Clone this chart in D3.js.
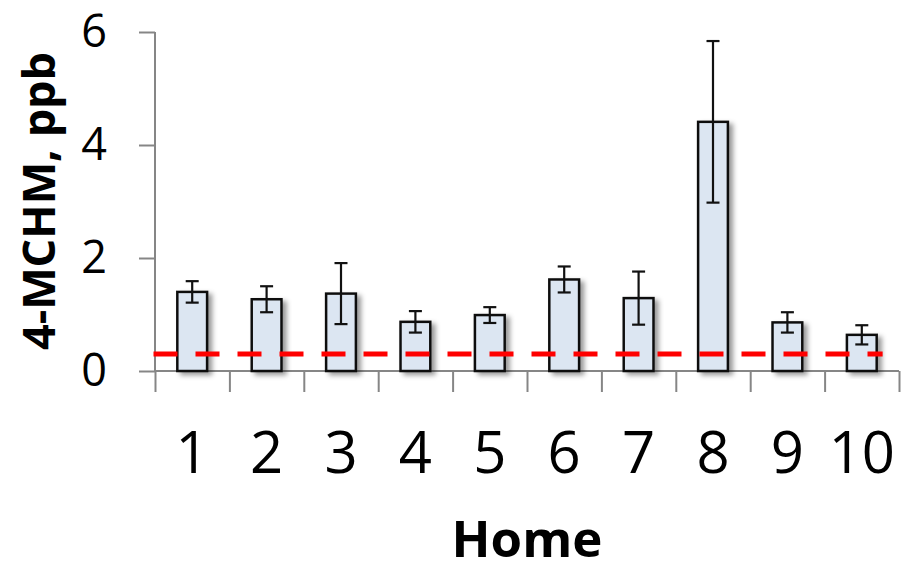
<!DOCTYPE html>
<html>
<head>
<meta charset="utf-8">
<script src="https://cdn.jsdelivr.net/npm/d3@7"></script>
<style>
  body { margin: 0; background: #fff; }
  svg { display: block; }
  svg text { font-family: 'Open Sans', sans-serif; }
</style>
</head>
<body>
<svg width="911" height="562"></svg>
<script>
const homes = ['1', '2', '3', '4', '5', '6', '7', '8', '9', '10'];
const means = [1.40, 1.27, 1.37, 0.87, 0.99, 1.62, 1.29, 4.41, 0.86, 0.64];
const errors = [0.19, 0.23, 0.54, 0.19, 0.14, 0.23, 0.47, 1.43, 0.18, 0.17];
const yTicks = [0, 2, 4, 6];
const threshold = 0.3;

const svg = d3.select('svg');
const width = 911;
const height = 562;
const margin = { top: 32, right: 12, bottom: 191, left: 155 };
const innerWidth = width - margin.left - margin.right;
const innerHeight = height - margin.top - margin.bottom;
const font = "'Open Sans', sans-serif";

const xScale = d3.scaleBand()
    .domain(homes)
    .range([0, innerWidth])
    .paddingInner(0.6)
    .paddingOuter(0.3);

// edges of each category, for the tick marks between bars
const edgeScale = d3.scaleLinear()
    .domain([0, homes.length])
    .range([0, innerWidth]);

const yScale = d3.scaleLinear()
    .domain([0, 6])
    .range([innerHeight, 0]);

const defs = svg.append('defs');
const shadow = defs.append('filter')
    .attr('id', 'shadow')
    .attr('x', '-30%').attr('y', '-10%')
    .attr('width', '170%').attr('height', '130%');
shadow.append('feDropShadow')
    .attr('dx', 4).attr('dy', 3)
    .attr('stdDeviation', 2.5)
    .attr('flood-color', '#000')
    .attr('flood-opacity', 0.4);

const g = svg.append('g')
    .attr('transform', `translate(${margin.left},${margin.top})`);

// y axis
const yAxis = d3.axisLeft(yScale)
    .tickValues(yTicks)
    .tickFormat(d3.format('d'))
    .tickSize(16)
    .tickPadding(32);

const yAxisG = g.append('g').call(yAxis)
    .attr('font-family', font)
    .attr('font-size', 45);
yAxisG.select('.domain')
    .attr('stroke', '#868686')
    .attr('stroke-width', 2)
    .attr('d', `M0,${yScale(6)}V${innerHeight}`);
yAxisG.selectAll('.tick line')
    .attr('stroke', '#868686')
    .attr('stroke-width', 2);
yAxisG.selectAll('.tick text')
    .attr('fill', '#000');

g.append('text')
    .attr('transform', `translate(${55 - margin.left},${201 - margin.top}) rotate(-90)`)
    .attr('text-anchor', 'middle')
    .attr('font-family', font)
    .attr('font-size', 45)
    .attr('font-weight', 'bold')
    .attr('fill', '#000')
    .text('4-MCHM, ppb');

// x axis: boundary ticks
const edgeAxis = d3.axisBottom(edgeScale)
    .tickValues(d3.range(homes.length + 1))
    .tickSize(21);

const edgeAxisG = g.append('g')
    .attr('transform', `translate(0,${innerHeight})`)
    .call(edgeAxis);
edgeAxisG.selectAll('.tick text').remove();
edgeAxisG.select('.domain')
    .attr('stroke', '#868686')
    .attr('stroke-width', 2)
    .attr('d', `M0,0H${innerWidth}`);
edgeAxisG.selectAll('.tick line')
    .attr('stroke', '#868686')
    .attr('stroke-width', 2);

// x axis: category labels
const xAxis = d3.axisBottom(xScale)
    .tickSize(0)
    .tickPadding(61);

const xAxisG = g.append('g')
    .attr('transform', `translate(0,${innerHeight})`)
    .call(xAxis)
    .attr('font-family', font)
    .attr('font-size', 58);
xAxisG.select('.domain').remove();
xAxisG.selectAll('.tick text')
    .attr('fill', '#000');

g.append('text')
    .attr('x', innerWidth / 2)
    .attr('y', 557 - margin.top)
    .attr('text-anchor', 'middle')
    .attr('font-family', font)
    .attr('font-size', 51)
    .attr('font-weight', 'bold')
    .attr('fill', '#000')
    .text('Home');

// bars
const data = homes.map((h, i) => ({ home: h, mean: means[i], err: errors[i] }));

g.selectAll('.bar')
    .data(data)
    .enter().append('rect')
    .attr('class', 'bar')
    .attr('x', d => xScale(d.home))
    .attr('y', d => yScale(d.mean))
    .attr('width', xScale.bandwidth())
    .attr('height', d => innerHeight - yScale(d.mean))
    .attr('fill', '#dce6f2')
    .attr('stroke', '#111')
    .attr('stroke-width', 2.5)
    .attr('filter', 'url(#shadow)');

// threshold line
g.append('line')
    .attr('x1', edgeScale(0) - 1.5)
    .attr('x2', xScale('10') + xScale.bandwidth() * 1.2)
    .attr('y1', yScale(threshold))
    .attr('y2', yScale(threshold))
    .attr('stroke', '#ff0000')
    .attr('stroke-width', 5)
    .attr('stroke-dasharray', '24,18');

// error bars
const capHalf = 6.5;
const errG = g.selectAll('.err')
    .data(data)
    .enter().append('g')
    .attr('class', 'err')
    .attr('stroke', '#111')
    .attr('stroke-width', 2.2);

errG.append('line')
    .attr('x1', d => xScale(d.home) + xScale.bandwidth() / 2)
    .attr('x2', d => xScale(d.home) + xScale.bandwidth() / 2)
    .attr('y1', d => yScale(d.mean + d.err))
    .attr('y2', d => yScale(d.mean - d.err));
errG.append('line')
    .attr('x1', d => xScale(d.home) + xScale.bandwidth() / 2 - capHalf)
    .attr('x2', d => xScale(d.home) + xScale.bandwidth() / 2 + capHalf)
    .attr('y1', d => yScale(d.mean + d.err))
    .attr('y2', d => yScale(d.mean + d.err));
errG.append('line')
    .attr('x1', d => xScale(d.home) + xScale.bandwidth() / 2 - capHalf)
    .attr('x2', d => xScale(d.home) + xScale.bandwidth() / 2 + capHalf)
    .attr('y1', d => yScale(d.mean - d.err))
    .attr('y2', d => yScale(d.mean - d.err));
</script>
</body>
</html>
